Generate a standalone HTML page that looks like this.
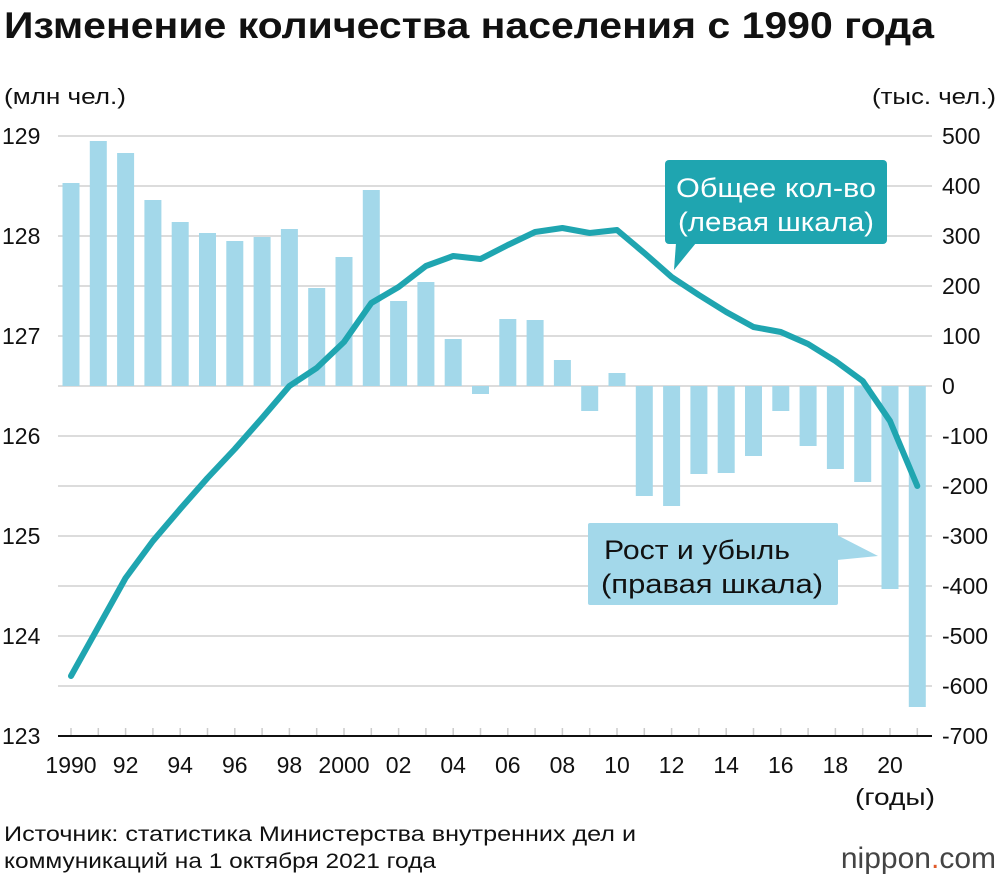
<!DOCTYPE html>
<html><head><meta charset="utf-8"><style>
body{margin:0;background:#fff;font-family:"Liberation Sans",sans-serif;}
svg text{font-family:"Liberation Sans","DejaVu Sans",sans-serif;}
</style></head><body>
<svg width="1000" height="880" xmlns="http://www.w3.org/2000/svg" id="chart">
<text x="4" y="38" font-size="37" font-weight="bold" fill="#111" textLength="930" lengthAdjust="spacingAndGlyphs">Изменение количества населения с 1990 года</text>
<text x="4" y="104" font-size="22" fill="#111" textLength="122" lengthAdjust="spacingAndGlyphs">(млн чел.)</text>
<text x="996" y="104" font-size="22" fill="#111" text-anchor="end" textLength="124" lengthAdjust="spacingAndGlyphs">(тыс. чел.)</text>
<g id="grid"></g>
<g id="bars"></g>
<g id="axes"></g>
<path id="line" fill="none" stroke="#1fa5b0" stroke-width="6" stroke-linejoin="round" stroke-linecap="round"/>
<g>
<rect x="665" y="160" width="222" height="84" rx="4" fill="#1fa5b0"/>
<polygon points="676,243 696,243 674,270" fill="#1fa5b0"/>
<text x="776" y="197" font-size="27" fill="#fff" text-anchor="middle" textLength="200" lengthAdjust="spacingAndGlyphs">Общее кол-во</text>
<text x="776" y="231" font-size="27" fill="#fff" text-anchor="middle" textLength="196" lengthAdjust="spacingAndGlyphs">(левая шкала)</text>
</g>
<g>
<rect x="588" y="523" width="250" height="82" rx="2" fill="#a3d8ea"/>
<polygon points="837,535 837,560 878,556" fill="#a3d8ea"/>
<text x="604" y="559" font-size="27" fill="#111" textLength="186" lengthAdjust="spacingAndGlyphs">Рост и убыль</text>
<text x="601" y="593" font-size="27" fill="#111" textLength="222" lengthAdjust="spacingAndGlyphs">(правая шкала)</text>
</g>
<text x="935" y="805" font-size="23" fill="#111" text-anchor="end" textLength="80" lengthAdjust="spacingAndGlyphs">(годы)</text>
<text x="4" y="841" font-size="21" fill="#111" textLength="632" lengthAdjust="spacingAndGlyphs">Источник: статистика Министерства внутренних дел и</text>
<text x="4" y="868" font-size="21" fill="#111" textLength="432" lengthAdjust="spacingAndGlyphs">коммуникаций на 1 октября 2021 года</text>
<text x="996" y="868" font-size="30" fill="#444" text-anchor="end">nippon<tspan fill="#e05a2b">.</tspan>com</text>
</svg>
<script>
const years=[1990,1991,1992,1993,1994,1995,1996,1997,1998,1999,2000,2001,2002,2003,2004,2005,2006,2007,2008,2009,2010,2011,2012,2013,2014,2015,2016,2017,2018,2019,2020,2021];
const changeValues=[406,490,466,372,328,306,290,298,314,196,258,392,170,208,94,-16,134,132,52,-50,26,-220,-240,-176,-174,-140,-50,-120,-166,-192,-406,-642];
const totalValues=[123.60,124.09,124.58,124.95,125.27,125.58,125.87,126.18,126.50,126.68,126.94,127.33,127.49,127.70,127.80,127.77,127.91,128.04,128.08,128.03,128.06,127.83,127.59,127.41,127.24,127.09,127.04,126.92,126.75,126.55,126.15,125.50];
const leftTicks=[123,124,125,126,127,128,129];
const rightTicks=[-700,-600,-500,-400,-300,-200,-100,0,100,200,300,400,500];
const xLabels=["1990","92","94","96","98","2000","02","04","06","08","10","12","14","16","18","20"];
const NS="http://www.w3.org/2000/svg";
const X0=58,X1=932,Y0=136,Y1=736;
const xs=y=>71+(y-1990)*27.3;
const yL=v=>Y0+(129-v)*(Y1-Y0)/6;
const yR=v=>Y0+(500-v)*(Y1-Y0)/1200;
function mk(t,a,p){const e=document.createElementNS(NS,t);for(const k in a)e.setAttribute(k,a[k]);p.appendChild(e);return e;}
const grid=document.getElementById('grid'),bars=document.getElementById('bars'),axes=document.getElementById('axes');
rightTicks.forEach(v=>{
 const y=yR(v);
 if(v>-700){const g=mk('line',{x1:X0,x2:X1,y1:y,y2:y,stroke:'#d0d0d0','stroke-width':1.5},grid);
 
 }
 const t=mk('text',{x:942,y:y+8,'font-size':23,fill:'#111'},axes);t.textContent=v;
 
 
});
leftTicks.forEach(v=>{
 const t=mk('text',{x:2,y:yL(v)+8,'font-size':23,fill:'#111'},axes);t.textContent=v;
 
 
});
years.forEach((yr,i)=>{
 const v=changeValues[i],y0=yR(0),y=yR(v);
 const r=mk('rect',{x:xs(yr)-8.5,y:Math.min(y,y0),width:17,height:Math.abs(y-y0),fill:'#a3d8ea'},bars);
 
 
 const tk=mk('line',{x1:xs(yr),x2:xs(yr),y1:Y1-8,y2:Y1,stroke:'#ccc','stroke-width':1.5},axes);
 
 
});
const ax=mk('line',{x1:X0,x2:X1,y1:Y1,y2:Y1,stroke:'#111','stroke-width':2},axes);


xLabels.forEach((l,i)=>{
 const t=mk('text',{x:xs(1990+i*2),y:773,'font-size':23,fill:'#111','text-anchor':'middle'},axes);t.textContent=l;
 
 
});
document.getElementById('line').setAttribute('d',years.map((yr,i)=>(i?'L':'M')+xs(yr)+','+yL(totalValues[i])).join(' '));
</script>
</body></html>
